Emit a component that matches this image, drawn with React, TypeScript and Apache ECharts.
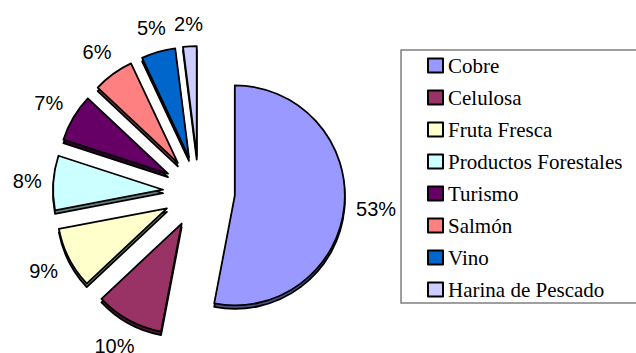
import React, { useEffect, useRef } from "react";
import * as echarts from "echarts";

const categories = [
  "Cobre",
  "Celulosa",
  "Fruta Fresca",
  "Productos Forestales",
  "Turismo",
  "Salmón",
  "Vino",
  "Harina de Pescado",
];
const shares = [53, 10, 9, 8, 7, 6, 5, 2];
const colors = ["#9999FF", "#993366", "#FFFFCC", "#CCFFFF", "#660066", "#FF8080", "#0066CC", "#CCCCFF"];
const rimColors = ["#4D4D80", "#4D1A33", "#808066", "#668080", "#330033", "#804040", "#003366", "#666680"];

const CX = 199;
const CY = 192;
const R = 110;
const EXPLODE = 36;
const LABEL_GAP = 11;
const LABEL_FONT = 20;

export default function App() {
  const ref = useRef<HTMLDivElement>(null);
  useEffect(() => {
    if (!ref.current) return;
    const chart = echarts.init(ref.current, null, { renderer: "svg" });
    const total = shares.reduce((a, b) => a + b, 0);
    const mids: number[] = [];
    let acc = 0;
    shares.forEach((v) => {
      mids.push(((acc + v / 2) / total) * 360);
      acc += v;
    });
    const ctx = document.createElement("canvas").getContext("2d");
    const measure = (t: string) => {
      if (!ctx) return t.length * LABEL_FONT * 0.6;
      ctx.font = `${LABEL_FONT}px "Liberation Sans"`;
      return ctx.measureText(t).width;
    };
    // label line length chosen so the centred label sits just outside its slice
    const lineLen = shares.map((v, i) => {
      const a = (mids[i] * Math.PI) / 180;
      const dx = Math.sin(a);
      const dy = -Math.cos(a);
      const w = measure(`${v}%`);
      const half = Math.abs(dx) * (w / 2) + Math.abs(dy) * (LABEL_FONT / 2);
      return LABEL_GAP + half;
    });

    const mkData = (cols: string[], showLabel: boolean) =>
      categories.map((name, i) => ({
        name,
        value: shares[i],
        selected: true,
        itemStyle: { color: cols[i] },
        select: { itemStyle: { color: cols[i], borderColor: "#000", borderWidth: 1.8 } },
        label: { show: showLabel },
        labelLine: { show: false, length: lineLen[i], length2: 0 },
      }));

    const common = {
      type: "pie" as const,
      radius: R,
      startAngle: 90,
      clockwise: true,
      selectedMode: "multiple" as const,
      selectedOffset: EXPLODE,
      avoidLabelOverlap: false,
      emphasis: { disabled: true, scale: false },
      itemStyle: { borderColor: "#000", borderWidth: 1.8 },
      labelLine: { show: false, length: 10, length2: 0 },
    };

    chart.setOption({
      animation: false,
      legend: {
        orient: "vertical",
        left: 422,
        top: 50,
        itemWidth: 15,
        itemHeight: 14,
        itemGap: 11,
        icon: "rect",
        selectedMode: false,
        textStyle: { fontFamily: "Liberation Serif", fontSize: 21, lineHeight: 21, color: "#000" },
        data: categories.map((name, i) => ({
          name,
          itemStyle: { color: colors[i], borderColor: "#000", borderWidth: 2 },
        })),
      },
      graphic: [
        {
          type: "rect",
          shape: { x: 401, y: 50, width: 245, height: 253 },
          style: { fill: "none", stroke: "#808080", lineWidth: 1.5 },
          z: -1,
        },
      ],
      series: [
        {
          ...common,
          name: "rim",
          center: [CX, CY + 3.5],
          z: 1,
          silent: true,
          label: { show: false },
          data: mkData(rimColors, false),
        },
        {
          ...common,
          name: "main",
          center: [CX, CY],
          z: 2,
          label: {
            show: true,
            position: "outside",
            formatter: "{c}%",
            fontFamily: "Liberation Sans",
            fontSize: LABEL_FONT,
            color: "#000",
            distanceToLabelLine: 0,
          },
          select: { label: { show: true } },
          labelLayout: () => ({ align: "center", verticalAlign: "middle" }),
          data: mkData(colors, true),
        },
      ],
    });
    return () => chart.dispose();
  }, []);
  return (
    <div
      ref={ref}
      style={{ position: "absolute", left: 0, top: 0, width: 636, height: 353, background: "#fff" }}
    />
  );
}
